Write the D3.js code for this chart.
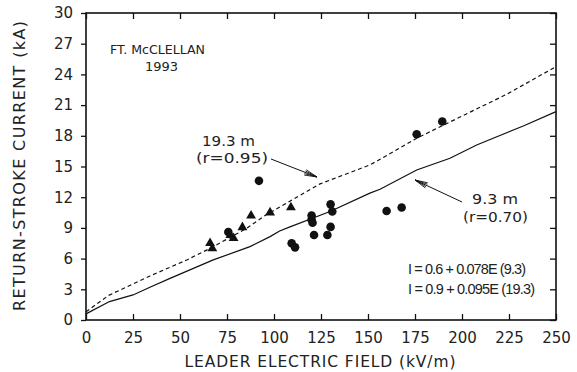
<!DOCTYPE html>
<html>
<head>
<meta charset="utf-8">
<script src="https://cdn.jsdelivr.net/npm/d3@7"></script>
<style>
  body { margin: 0; background: #fff; }
  text { font-family: "DejaVu Sans", sans-serif; font-weight: normal; fill: #222; }
  text.eq { font-family: "Liberation Sans", sans-serif; }
</style>
</head>
<body>
<script>
// tick values
var xTicks = [0, 25, 50, 75, 100, 125, 150, 175, 200, 225, 250];
var yTicks = [0, 3, 6, 9, 12, 15, 18, 21, 24, 27, 30];

// 9.3 m stations (circles)
var circleE = [92, 75.7, 109.4, 111.2, 120, 120, 120.5, 121.3, 130.1, 131, 130.1, 128.4, 159.9, 167.9, 175.9, 189.5];
var circleI = [13.6, 8.6, 7.5, 7.1, 10.2, 9.8, 9.5, 8.3, 11.3, 10.6, 9.1, 8.3, 10.65, 11.0, 18.15, 19.4];

// 19.3 m stations (triangles)
var triE = [66, 67.2, 76.8, 78.5, 83.2, 87.8, 97.9, 109];
var triI = [7.5, 7.0, 8.3, 8.0, 9.06, 10.2, 10.5, 11.0];

// regression curves as traced
var solidE = [0, 12.5, 25, 34, 44.7, 67.7, 87.2, 97.9, 103, 108.5, 129.8, 151, 156.4, 175.9, 193.6, 207.8, 232.6, 250];
var solidI = [0.6, 1.8, 2.45, 3.2, 4.07, 5.87, 7.17, 8.15, 8.7, 9.1, 10.6, 12.4, 12.77, 14.66, 15.8, 17.1, 18.96, 20.36];
var dashE = [0, 12, 34, 53.6, 66, 85.5, 96, 124.5, 151, 156.4, 175.9, 191.9, 223.8, 250];
var dashI = [0.8, 2.4, 4.3, 5.87, 7.0, 8.96, 10.3, 13.3, 15.15, 15.7, 17.76, 19.2, 22.06, 24.76];

var width = 577, height = 372,
    plotLeft = 86, plotRight = 556, plotTop = 13, plotBottom = 320;

var x = d3.scaleLinear().domain([0, 250]).range([plotLeft, plotRight]);
var y = d3.scaleLinear().domain([0, 30]).range([plotBottom, plotTop]);

var svg = d3.select("body")
  .append("svg")
    .attr("width", width)
    .attr("height", height);

// frame
svg.append("rect")
  .attr("x", plotLeft).attr("y", plotTop)
  .attr("width", plotRight - plotLeft).attr("height", plotBottom - plotTop)
  .attr("fill", "none").attr("stroke", "#111").attr("stroke-width", 1.6);

function styleAxis(g) {
  g.select(".domain").remove();
  g.selectAll(".tick line").attr("stroke", "#111").attr("stroke-width", 1.3);
  g.selectAll(".tick text").style("font-size", "15px").attr("fill", "#222");
}

svg.append("g")
  .attr("transform", "translate(0," + plotBottom + ")")
  .call(d3.axisBottom(x).tickValues(xTicks).tickSizeInner(-6).tickPadding(12))
  .call(styleAxis);

svg.append("g")
  .attr("transform", "translate(" + plotLeft + ",0)")
  .call(d3.axisLeft(y).tickValues(yTicks).tickSizeInner(5).tickPadding(8))
  .call(styleAxis);

svg.append("g")
  .attr("transform", "translate(0," + plotTop + ")")
  .call(d3.axisTop(x).tickValues(xTicks).tickSizeInner(-6).tickFormat(""))
  .call(styleAxis);

svg.append("g")
  .attr("transform", "translate(" + plotRight + ",0)")
  .call(d3.axisRight(y).tickValues(yTicks).tickSizeInner(-6).tickFormat(""))
  .call(styleAxis);

// axis titles
svg.append("text")
  .attr("x", 320).attr("y", 367)
  .attr("text-anchor", "middle")
  .attr("textLength", 271).attr("lengthAdjust", "spacing")
  .style("font-size", "15.5px")
  .text("LEADER ELECTRIC FIELD (kV/m)");

svg.append("text")
  .attr("transform", "translate(25," + 166 + ") rotate(-90)")
  .attr("text-anchor", "middle")
  .attr("textLength", 290).attr("lengthAdjust", "spacing")
  .style("font-size", "16px")
  .text("RETURN-STROKE CURRENT (kA)");

// lines
var line = d3.line()
  .x(function(d) { return x(d[0]); })
  .y(function(d) { return y(d[1]); });

svg.append("path")
  .datum(d3.zip(solidE, solidI))
  .attr("d", line)
  .attr("fill", "none").attr("stroke", "#111").attr("stroke-width", 1.2);

svg.append("path")
  .datum(d3.zip(dashE, dashI))
  .attr("d", line)
  .attr("fill", "none").attr("stroke", "#111").attr("stroke-width", 1.2)
  .attr("stroke-dasharray", "4,3");

// markers
svg.selectAll(".circ")
  .data(d3.zip(circleE, circleI))
  .enter()
  .append("circle")
    .attr("class", "circ")
    .attr("cx", function(d) { return x(d[0]); })
    .attr("cy", function(d) { return y(d[1]); })
    .attr("r", 4.3)
    .attr("fill", "#111");

svg.selectAll(".tri")
  .data(d3.zip(triE, triI))
  .enter()
  .append("path")
    .attr("class", "tri")
    .attr("d", d3.symbol().type(d3.symbolTriangle).size(42))
    .attr("transform", function(d) { return "translate(" + x(d[0]) + "," + y(d[1]) + ")"; })
    .attr("fill", "#111");

// annotations
function label(tx, ty, s, size, len, cls, adjust) {
  var t = svg.append("text")
    .attr("x", tx).attr("y", ty)
    .attr("class", cls || null)
    .style("font-size", size + "px")
    .text(s);
  if (len) t.attr("textLength", len).attr("lengthAdjust", adjust || "spacingAndGlyphs");
}

label(110, 54, "FT. McCLELLAN", 13, 95);
label(145, 71, "1993", 13);
label(202, 146, "19.3 m", 14, 53);
label(196, 163, "(r=0.95)", 14, 72);
label(472, 204, "9.3 m", 14, 46);
label(463, 222, "(r=0.70)", 14, 65);
label(408, 274, "I = 0.6 + 0.078E (9.3)", 14.5, 118, "eq", "spacing");
label(408, 294, "I = 0.9 + 0.095E (19.3)", 14.5, 127, "eq", "spacing");

// arrows
function arrow(x1, y1, x2, y2) {
  var a = Math.atan2(y2 - y1, x2 - x1), len = 13, spread = 0.22;
  svg.append("line")
    .attr("x1", x1).attr("y1", y1).attr("x2", x2).attr("y2", y2)
    .attr("stroke", "#111").attr("stroke-width", 1);
  [spread, -spread, spread * 0.5, -spread * 0.5].forEach(function(s) {
    svg.append("line")
      .attr("x1", x2).attr("y1", y2)
      .attr("x2", x2 - len * Math.cos(a + s)).attr("y2", y2 - len * Math.sin(a + s))
      .attr("stroke", "#111").attr("stroke-width", 0.9);
  });
}

arrow(271, 159, 317, 177);
arrow(462, 202, 415, 180);
</script>
</body>
</html>
